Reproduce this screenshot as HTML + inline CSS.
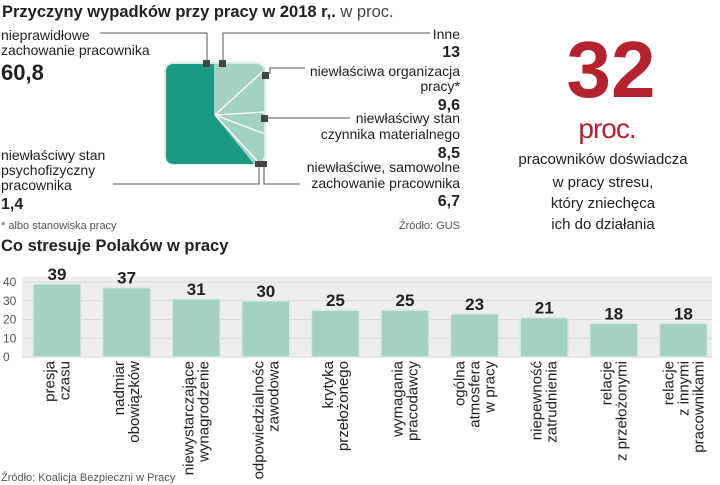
<!DOCTYPE html>
<html><head><meta charset="utf-8"><style>
body{margin:0;background:#fff}
svg{display:block;font-family:"Liberation Sans",sans-serif}
</style></head><body>
<svg id="c" width="720" height="485" viewBox="0 0 720 485">
<g><text x="2" y="17" font-size="16.5" font-weight="bold" fill="#222">Przyczyny wypadków przy pracy w 2018 r,.<tspan font-weight="normal" fill="#444"> w proc.</tspan></text></g>
<g>
<rect x="165" y="63" width="100" height="101" rx="9" fill="#a3d1c4" stroke="#d8ece6" stroke-width="2"/>
<path d="M174,64 L214,64 L214,115 L254,164 L174,164 Q166,164 166,156 L166,72 Q166,64 174,64Z" fill="#1a9a82"/>
<g stroke="#fff" stroke-width="1.3"><line x1="215" y1="115" x2="262" y2="72"/><line x1="215" y1="115" x2="265" y2="112"/><line x1="215" y1="115" x2="265" y2="134"/><line x1="215" y1="115" x2="259" y2="163"/></g>
</g>
<g stroke="#555" stroke-width="1" fill="none">
<path d="M100,33 H207 V62"/><path d="M430,33 H223 V62"/><path d="M305,68 H270 V74"/><path d="M350,118 H265"/><path d="M300,184 H264 V165"/><path d="M113,184 H259 V165"/>
</g>
<g fill="#444">
<rect x="203" y="60" width="7" height="7"/><rect x="219" y="60" width="7" height="7"/><rect x="262" y="72" width="7" height="7"/><rect x="261" y="115" width="7" height="7"/><rect x="255" y="161" width="6" height="6"/><rect x="261" y="161" width="6" height="6"/>
</g>
<g font-size="14" fill="#222">
<text x="1" y="40">nieprawidłowe</text><text x="1" y="55">zachowanie pracownika</text><text x="1" y="80" font-size="22" font-weight="bold">60,8</text>
<text x="1" y="160">niewłaściwy stan</text><text x="1" y="175">psychofizyczny</text><text x="1" y="190">pracownika</text><text x="1" y="209" font-size="16" font-weight="bold">1,4</text>
<g text-anchor="end">
<text x="460" y="39">Inne</text><text x="460" y="57" font-size="16" font-weight="bold">13</text>
<text x="460" y="76">niewłaściwa organizacja</text><text x="460" y="91">pracy*</text><text x="460" y="110" font-size="16" font-weight="bold">9,6</text>
<text x="460" y="123">niewłaściwy stan</text><text x="460" y="139">czynnika  materialnego</text><text x="460" y="158" font-size="16" font-weight="bold">8,5</text>
<text x="460" y="172">niewłaściwe, samowolne</text><text x="460" y="188">zachowanie pracownika</text><text x="460" y="206" font-size="16" font-weight="bold">6,7</text>
</g>
<text x="1" y="229" font-size="11" fill="#555">* albo stanowiska pracy</text>
<text x="460" y="229" font-size="11" fill="#555" text-anchor="end">Źródło: GUS</text>
</g>
<g text-anchor="middle">
<text x="611" y="97" font-size="80" font-weight="bold" fill="#b5222f">32</text>
<text x="607" y="138" font-size="28" fill="#b5222f" letter-spacing="-1">proc.</text>
<g font-size="15" fill="#222"><text x="603" y="164">pracowników doświadcza</text><text x="603" y="187">w pracy stresu,</text><text x="603" y="208">który zniechęca</text><text x="603" y="229">ich do działania</text></g>
</g>
<text x="1" y="251" font-size="16.5" font-weight="bold" fill="#222">Co stresuje  Polaków w pracy</text>
<g id="plot"></g>
<text x="1" y="481" font-size="11" fill="#555">Źródło: Koalicja Bezpieczni w Pracy</text>
</svg>
<script>
const categories=[["presja","czasu"],["nadmiar","obowiązków"],["niewystarczające","wynagrodzenie"],["odpowiedzialnośc","zawodowa"],["krytyka","przełożonego"],["wymagania","pracodawcy"],["ogólna","atmosfera","w pracy"],["niepewność","zatrudnienia"],["relacje","z przełożonymi"],["relacje","z innymi","pracownikami"]];
const values=[39,37,31,30,25,25,23,21,18,18];
const ticks=[0,10,20,30,40];
const NS="http://www.w3.org/2000/svg",g=document.getElementById('plot');
const y=v=>357-v*1.875, x=i=>57+i*69.6;
function mk(t,a,p){const e=document.createElementNS(NS,t);for(const k in a)e.setAttribute(k,a[k]);(p||g).appendChild(e);return e;}
const bg=mk('rect',{x:22,y:277,width:690,height:81,fill:'#eeeeee'});


ticks.forEach(t=>{
 const l=mk('line',{x1:22,x2:712,y1:y(t),y2:y(t),stroke:'#dcdcdc','stroke-width':1});
 
 
 const tx=mk('text',{x:3,y:y(t)+4,'font-size':12,fill:'#555'});tx.textContent=t;
 
 
});
values.forEach((v,i)=>{
 const b=mk('rect',{x:x(i)-24,y:y(v),width:48,height:357-y(v),rx:2,fill:'#a3d1c4',stroke:'#dfe8e5','stroke-width':1.5});
 
 
 const t=mk('text',{x:x(i),y:y(v)-4,'font-size':17,'font-weight':'bold','text-anchor':'middle',fill:'#222'});t.textContent=v;
 
 
 const lines=categories[i],n=lines.length;
 lines.forEach((s,j)=>{
  const lx=x(i)+(j-(n-1)/2)*15+5;
  const lt=mk('text',{x:0,y:0,'font-size':15,fill:'#222','text-anchor':'end',transform:`translate(${lx},361) rotate(-90)`});lt.textContent=s;
  
  
 });
});
</script>
</body></html>
